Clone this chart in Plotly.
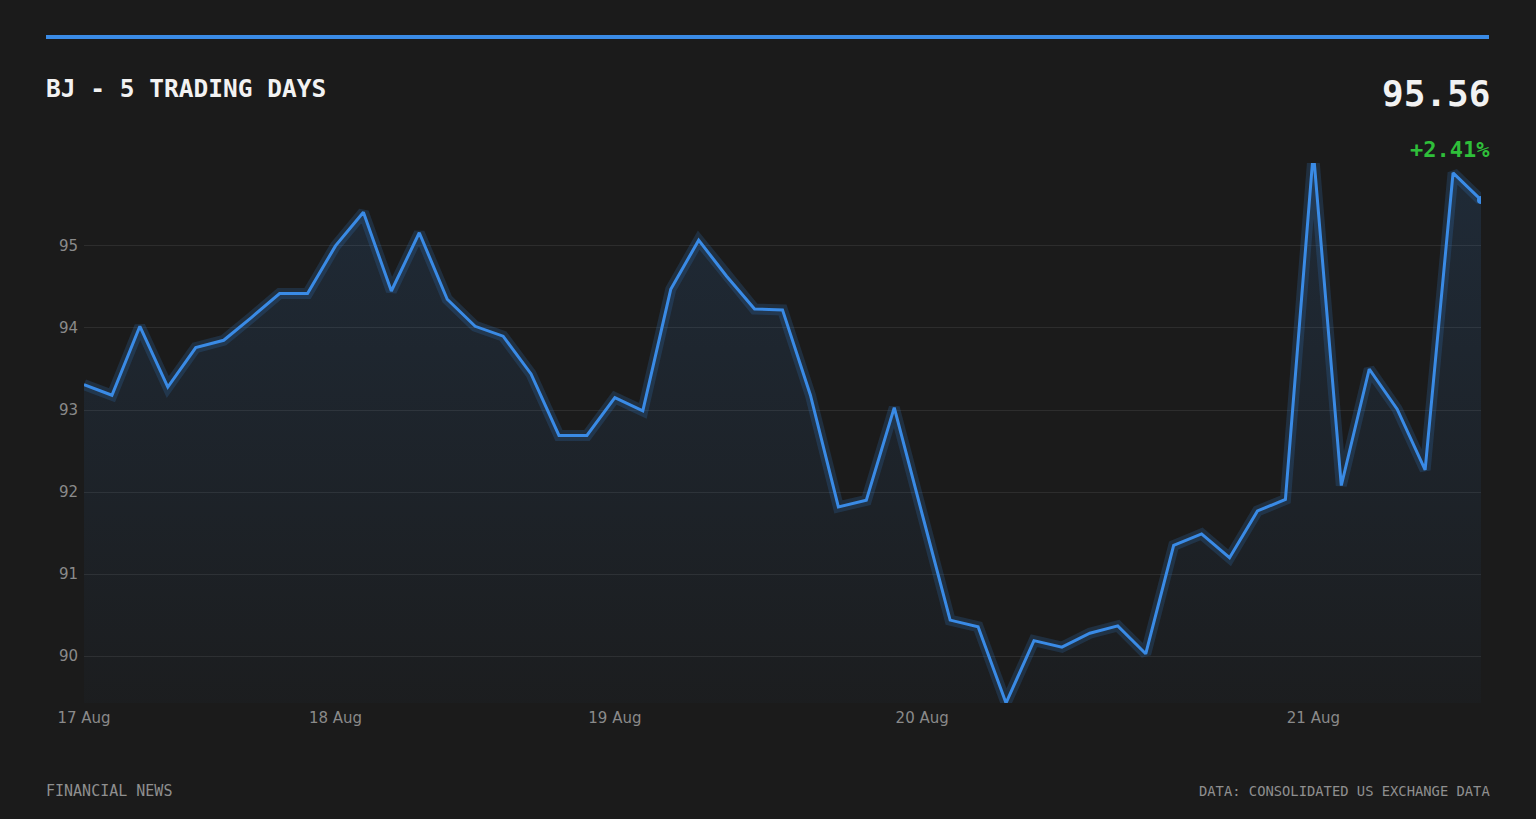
import plotly.graph_objects as go

prices = [93.31, 93.18, 94.02, 93.28, 93.76, 93.85, 94.13, 94.42, 94.42, 95.00,
          95.41, 94.45, 95.16, 94.35, 94.02, 93.90, 93.44, 92.69, 92.69, 93.15,
          92.99, 94.47, 95.07, 94.63, 94.23, 94.22, 93.18, 91.82, 91.90, 93.03,
          91.73, 90.44, 90.36, 89.43, 90.19, 90.11, 90.28, 90.37, 90.03, 91.35,
          91.49, 91.20, 91.77, 91.91, 96.15, 92.08, 93.50, 93.01, 92.27, 95.89,
          95.56]
idx = list(range(len(prices)))
day_tick_idx = [0, 9, 19, 30, 44]
day_tick_labels = ["17 Aug", "18 Aug", "19 Aug", "20 Aug", "21 Aug"]
y_ticks = [90, 91, 92, 93, 94, 95]

title_text = "BJ - 5 TRADING DAYS"
last_price = "95.56"
change_text = "+2.41%"
source_left = "FINANCIAL NEWS"
source_right = "DATA: CONSOLIDATED US EXCHANGE DATA"

BLUE = "#3a8be6"
BG = "#1b1b1b"
y_lo, y_hi = 89.43, 96.01

fig = go.Figure()
# filled area with gradient
fig.add_trace(go.Scatter(
    x=idx, y=prices, mode="lines", line=dict(width=0, color=BLUE),
    fill="tozeroy",
    fillgradient=dict(type="vertical", start=y_lo, stop=y_hi,
                      colorscale=[[0, "rgba(58,139,230,0.02)"], [1, "rgba(58,139,230,0.14)"]]),
    hoverinfo="skip", showlegend=False))
# glow
fig.add_trace(go.Scatter(
    x=idx, y=prices, mode="lines",
    line=dict(width=11, color="rgba(58,139,230,0.18)"),
    hoverinfo="skip", showlegend=False))
# main line
fig.add_trace(go.Scatter(
    x=idx, y=prices, mode="lines",
    line=dict(width=3, color=BLUE), showlegend=False))
# last point marker
fig.add_trace(go.Scatter(
    x=[idx[-1]], y=[prices[-1]], mode="markers",
    marker=dict(size=8, color=BLUE), showlegend=False))

L = -40/1397
R = 1 + 11/1397
fig.update_layout(
    width=1536, height=819,
    paper_bgcolor=BG, plot_bgcolor=BG,
    margin=dict(l=84, r=55, t=163, b=116),
    showlegend=False,
    xaxis=dict(range=[0, len(prices) - 1], tickvals=day_tick_idx, ticktext=day_tick_labels,
               showgrid=False, zeroline=False, showline=False,
               ticks="outside", ticklen=1, tickcolor="rgba(0,0,0,0)",
               tickfont=dict(family="DejaVu Sans", size=15, color="#8a8a8a")),
    yaxis=dict(range=[y_lo, y_hi], tickvals=y_ticks,
               showgrid=True, gridcolor="#2d2d2d", gridwidth=1,
               zeroline=False, showline=False,
               ticks="outside", ticklen=2, tickcolor="rgba(0,0,0,0)",
               tickfont=dict(family="DejaVu Sans", size=15, color="#8a8a8a")),
    shapes=[dict(type="line", xref="paper", yref="paper",
                 x0=-38/1397, x1=1+8/1397, y0=1 + 126/540, y1=1 + 126/540,
                 line=dict(color=BLUE, width=4))],
    annotations=[
        dict(text=f"<b>{title_text}</b>", xref="paper", yref="paper",
             x=L, y=1 + 75/540, xanchor="left", yanchor="middle", showarrow=False,
             font=dict(family="DejaVu Sans Mono", size=24.5, color="#f2f2f2")),
        dict(text=f"<b>{last_price}</b>", xref="paper", yref="paper",
             x=R, y=1 + 70/540, xanchor="right", yanchor="middle", showarrow=False,
             font=dict(family="DejaVu Sans Mono", size=36, color="#f2f2f2")),
        dict(text=f"<b>{change_text}</b>", xref="paper", yref="paper",
             x=R, y=1 + 14/540, xanchor="right", yanchor="middle", showarrow=False,
             font=dict(family="DejaVu Sans Mono", size=22, color="#2fbf3a")),
        dict(text=source_left, xref="paper", yref="paper",
             x=L, y=-88/540, xanchor="left", yanchor="middle", showarrow=False,
             font=dict(family="DejaVu Sans Mono", size=15, color="#8f8f8f")),
        dict(text=source_right, xref="paper", yref="paper",
             x=R, y=-88/540, xanchor="right", yanchor="middle", showarrow=False,
             font=dict(family="DejaVu Sans Mono", size=13.8, color="#8f8f8f")),
    ],
)

fig.write_html("out.html", config={"displayModeBar": False},
               post_script="document.body.style.margin='0';")
